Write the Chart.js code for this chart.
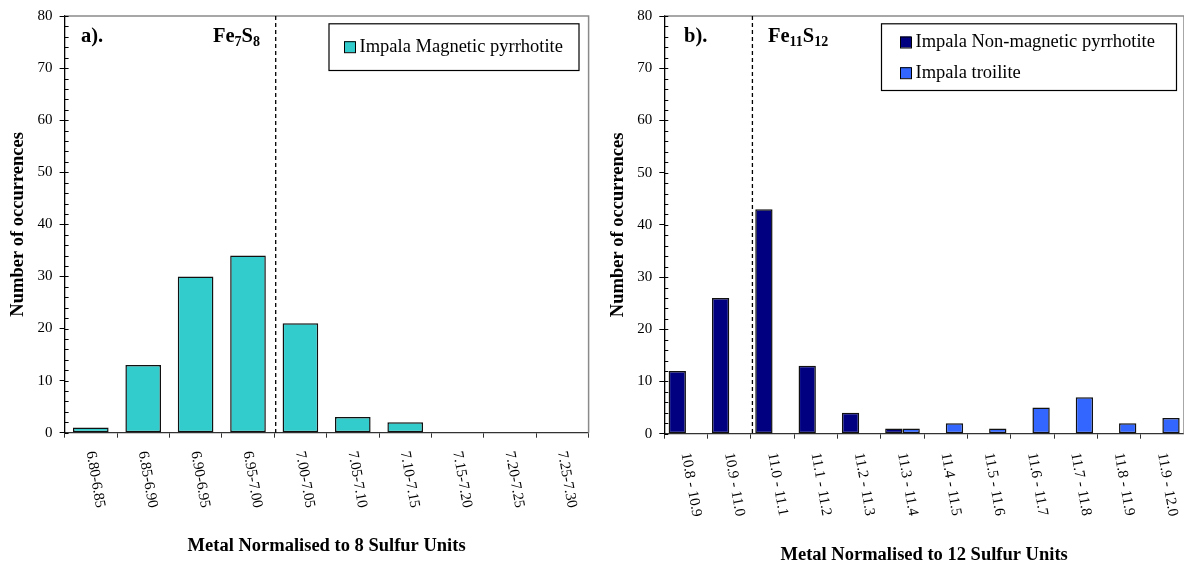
<!DOCTYPE html>
<html>
<head>
<meta charset="utf-8">
<script src="https://cdn.jsdelivr.net/npm/chart.js@4.4.1/dist/chart.umd.min.js"></script>
<style>
  html, body { margin: 0; padding: 0; background: #ffffff; }
  #wrap { position: relative; width: 1184px; height: 568px; overflow: hidden; }
  #chartA { position: absolute; left: 0; top: 0; }
  #chartB { position: absolute; left: 600px; top: 0; }
</style>
</head>
<body>
<div id="wrap">
  <canvas id="chartA" width="600" height="568"></canvas>
  <canvas id="chartB" width="584" height="568"></canvas>
</div>
<script>
// ---- data -------------------------------------------------------------
const rangesA = ['6.80-6.85', '6.85-6.90', '6.90-6.95', '6.95-7.00', '7.00-7.05',
                 '7.05-7.10', '7.10-7.15', '7.15-7.20', '7.20-7.25', '7.25-7.30'];
const magneticPyrrhotite = [1, 13, 30, 34, 21, 3, 2, 0, 0, 0];

const rangesB = ['10.8 - 10.9', '10.9 - 11.0', '11.0 - 11.1', '11.1 - 11.2', '11.2 - 11.3', '11.3 - 11.4',
                 '11.4 - 11.5', '11.5 - 11.6', '11.6 - 11.7', '11.7 - 11.8', '11.8 - 11.9', '11.9 - 12.0'];
const nonMagneticPyrrhotite = [12, 26, 43, 13, 4, 1, null, null, null, null, null, null];
const troilite = [null, null, null, null, null, 1, 2, 1, 5, 7, 2, 3];

const yMin = 0, yMax = 80, yStep = 10, yMinorStep = 2;

// ---- shared styling ---------------------------------------------------
const SERIF = '"Liberation Serif", "Times New Roman", serif';
const TICK_SIZE = 15;
const TITLE_SIZE = 18.5;
const LEGEND_SIZE = 18.5;
const NOTE_SIZE = 20.5;

// Frame: grey top/right border, inner minor ticks on the value axis,
// the dashed stoichiometry marker and the slanted category labels.
const framePlugin = {
  id: 'frame',
  afterDraw(chart, args, opts) {
    const { ctx, chartArea: a, scales: { x, y } } = chart;
    ctx.save();

    // grey plot border (top and right)
    ctx.strokeStyle = '#8a8a8a';
    ctx.lineWidth = 1.5;
    ctx.beginPath();
    ctx.moveTo(a.left, a.top);
    ctx.lineTo(a.right, a.top);
    ctx.lineTo(a.right, a.bottom);
    ctx.stroke();

    // inner ticks on the value axis
    ctx.strokeStyle = '#000';
    ctx.lineWidth = 1;
    for (let v = yMin; v <= yMax; v += yMinorStep) {
      const py = Math.round(y.getPixelForValue(v)) + 0.5;
      ctx.beginPath();
      ctx.moveTo(a.left, py);
      ctx.lineTo(a.left + 4, py);
      ctx.stroke();
    }

    // dashed marker at the stoichiometric composition
    const dx = x.getPixelForValue(opts.markerIndex - 0.5) + 1.5;
    ctx.setLineDash([4, 3]);
    ctx.lineWidth = 1.3;
    ctx.strokeStyle = '#000';
    ctx.beginPath();
    ctx.moveTo(dx, a.top);
    ctx.lineTo(dx, a.bottom);
    ctx.stroke();
    ctx.setLineDash([]);

    // slanted category labels, reading downwards
    ctx.fillStyle = '#000';
    ctx.font = TICK_SIZE + 'px ' + SERIF;
    ctx.textAlign = 'left';
    ctx.textBaseline = 'middle';
    chart.data.labels.forEach((lab, i) => {
      const px = x.getPixelForValue(i) - 0.5;
      ctx.save();
      ctx.translate(px, x.top + opts.labelOffset);
      ctx.rotate(80 * Math.PI / 180);
      ctx.fillText(lab, 0, 0);
      ctx.restore();
    });

    ctx.restore();
  }
};

// Boxed legend drawn inside the plot area
const boxLegendPlugin = {
  id: 'boxLegend',
  afterDraw(chart, args, opts) {
    const { ctx } = chart;
    const b = opts.box;
    ctx.save();
    ctx.fillStyle = '#fff';
    ctx.fillRect(b.x, b.y, b.w, b.h);
    ctx.strokeStyle = '#000';
    ctx.lineWidth = 1.2;
    ctx.strokeRect(b.x + 0.5, b.y + 0.5, b.w, b.h);
    ctx.font = LEGEND_SIZE + 'px ' + SERIF;
    ctx.textAlign = 'left';
    ctx.textBaseline = 'middle';
    chart.data.datasets.forEach((ds, i) => {
      const cy = opts.rows[i];
      ctx.fillStyle = ds.backgroundColor;
      ctx.fillRect(opts.swatchX, cy - 5.5, 11, 11);
      ctx.strokeStyle = '#000';
      ctx.lineWidth = 1;
      ctx.strokeRect(opts.swatchX + 0.5, cy - 5.5 + 0.5, 11, 11);
      ctx.fillStyle = '#000';
      ctx.fillText(ds.label, opts.swatchX + 15.5, cy + 0.5);
    });
    ctx.restore();
  }
};

// Panel tag and formula with subscripts
const notesPlugin = {
  id: 'notes',
  afterDraw(chart, args, opts) {
    const { ctx } = chart;
    ctx.save();
    ctx.fillStyle = '#000';
    ctx.textAlign = 'left';
    ctx.textBaseline = 'alphabetic';
    ctx.font = 'bold ' + NOTE_SIZE + 'px ' + SERIF;
    ctx.fillText(opts.tag, opts.tagX, opts.baseline);
    let cx = opts.formulaX;
    opts.formula.forEach(([txt, sub]) => {
      ctx.font = 'bold ' + (sub ? 14 : NOTE_SIZE) + 'px ' + SERIF;
      ctx.fillText(txt, cx, opts.baseline + (sub ? 4 : 0));
      cx += ctx.measureText(txt).width;
    });
    ctx.restore();
  }
};

function panelOptions(p) {
  return {
    responsive: false,
    animation: false,
    devicePixelRatio: 1,
    layout: { padding: { left: 0, top: 13, right: p.padRight, bottom: 0 } },
    plugins: {
      legend: { display: false },
      tooltip: { enabled: false },
      frame: { markerIndex: p.markerIndex, labelOffset: p.labelOffset },
      boxLegend: p.legend,
      notes: p.notes
    },
    scales: {
      x: {
        grid: { offset: true, drawOnChartArea: false, drawTicks: true, tickLength: 5, color: '#333', lineWidth: 1 },
        border: { display: true, color: '#333', width: 1.3 },
        ticks: { display: false },
        title: {
          display: true, text: p.xTitle, color: '#000',
          font: { family: SERIF, size: TITLE_SIZE, weight: 'bold' },
          padding: { top: 0, bottom: p.xTitlePad }
        },
        afterFit(s) { s.height = p.xAxisHeight; }
      },
      y: {
        min: yMin, max: yMax,
        ticks: { stepSize: yStep, color: '#000', padding: 7, font: { family: SERIF, size: TICK_SIZE } },
        grid: { drawOnChartArea: false, drawTicks: true, tickLength: 5, color: '#000', lineWidth: 1 },
        border: { display: true, color: '#000', width: 1.3 },
        title: {
          display: true, text: 'Number of occurrences', color: '#000',
          font: { family: SERIF, size: TITLE_SIZE, weight: 'bold' },
          padding: { top: 7, bottom: 0 }
        },
        afterFit(s) { s.width = p.yAxisWidth; }
      }
    }
  };
}

// ---- panel a) ----------------------------------------------------------
new Chart(document.getElementById('chartA'), {
  type: 'bar',
  data: {
    labels: rangesA,
    datasets: [{
      label: 'Impala Magnetic pyrrhotite',
      data: magneticPyrrhotite,
      backgroundColor: '#33CCCC',
      borderColor: '#111',
      borderWidth: 1.5,
      borderSkipped: false,
      categoryPercentage: 1.0,
      barPercentage: 0.68
    }]
  },
  options: panelOptions({
    padRight: 11.4,
    yAxisWidth: 64.6,
    xAxisHeight: 135.3,
    xTitle: 'Metal Normalised to 8 Sulfur Units',
    xTitlePad: 11,
    markerIndex: rangesA.indexOf('7.00-7.05'),
    labelOffset: 18.5,
    legend: { box: { x: 328.5, y: 23.3, w: 250, h: 46.7 }, swatchX: 344, rows: [46.7] },
    notes: { tag: 'a).', tagX: 81, formulaX: 213, baseline: 42,
             formula: [['Fe', false], ['7', true], ['S', false], ['8', true]] }
  }),
  plugins: [framePlugin, boxLegendPlugin, notesPlugin]
});

// ---- panel b) ----------------------------------------------------------
new Chart(document.getElementById('chartB'), {
  type: 'bar',
  data: {
    labels: rangesB,
    datasets: [{
      label: 'Impala Non-magnetic pyrrhotite',
      data: nonMagneticPyrrhotite,
      backgroundColor: '#000080',
      borderColor: '#111',
      borderWidth: 1.5,
      borderSkipped: false,
      categoryPercentage: 0.8,
      barPercentage: 1.0
    }, {
      label: 'Impala troilite',
      data: troilite,
      backgroundColor: '#3366FF',
      borderColor: '#111',
      borderWidth: 1.5,
      borderSkipped: false,
      categoryPercentage: 0.8,
      barPercentage: 1.0
    }]
  },
  options: panelOptions({
    padRight: 0,
    yAxisWidth: 64.3,
    xAxisHeight: 134.3,
    xTitle: 'Metal Normalised to 12 Sulfur Units',
    xTitlePad: 1.5,
    markerIndex: rangesB.indexOf('11.0 - 11.1'),
    labelOffset: 19,
    legend: { box: { x: 281, y: 23.3, w: 295, h: 66.7 }, swatchX: 300, rows: [42, 72.7] },
    notes: { tag: 'b).', tagX: 84, formulaX: 168, baseline: 42,
             formula: [['Fe', false], ['11', true], ['S', false], ['12', true]] }
  }),
  plugins: [framePlugin, boxLegendPlugin, notesPlugin]
});
</script>
</body>
</html>
